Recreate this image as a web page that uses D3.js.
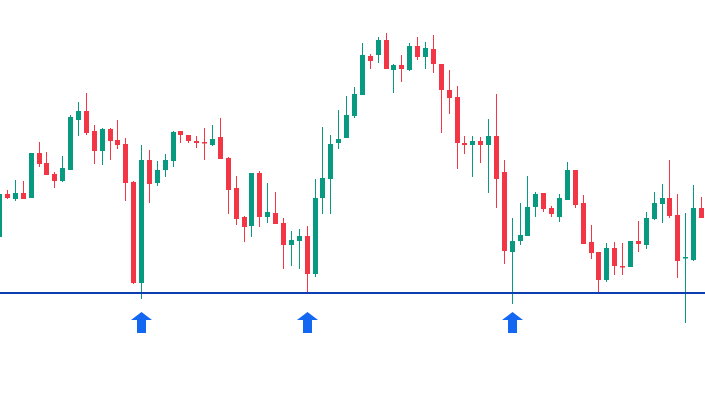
<!DOCTYPE html>
<html>
<head>
<meta charset="utf-8">
<script src="https://cdn.jsdelivr.net/npm/d3@7"></script>
<style>
  html, body { margin: 0; padding: 0; background: #ffffff; }
  svg { display: block; }
</style>
</head>
<body>
<svg id="chart" width="705" height="395"></svg>
<script>
// Candle data (price units)
const opens  = [158,201,196,202,197,242,232,221,214,225,275,284,264,244,266,255,251,213,112,235,
                212,225,234,264,260,254,253,250,258,237,207,178,169,222,178,182,172,150,154,159,
                121,197,216,252,257,279,300,339,340,355,325,330,325,349,338,346,331,305,298,252,
                250,254,250,259,223,143,154,159,188,202,187,178,195,225,192,153,143,115,147,129,
                128,154,150,176,191,197,180,137,135,187];
const highs  = [203,205,215,214,242,253,243,223,239,280,293,302,270,267,267,275,257,214,250,245,
                234,241,264,264,260,259,267,270,277,238,219,179,222,224,212,203,177,164,166,169,
                216,268,260,285,299,308,352,341,358,362,331,340,352,358,353,360,331,325,309,259,
                259,258,276,301,235,177,192,219,203,202,189,201,233,225,200,170,143,152,153,152,
                154,174,183,203,211,235,201,182,210,198];
const lows   = [157,196,194,196,197,228,220,207,213,225,259,260,231,230,235,246,194,111,96,192,
                209,218,228,252,252,247,235,249,236,181,170,153,158,168,172,171,126,129,126,101,
                118,181,181,246,257,277,300,326,332,326,302,313,324,335,326,322,262,281,226,241,
                218,232,202,187,131,91,150,159,178,183,178,173,195,187,151,136,101,113,120,120,
                128,143,146,175,172,177,117,72,134,177];
const closes = [201,197,202,196,242,231,220,214,227,278,284,262,244,266,254,250,212,112,235,211,
                225,235,263,260,254,252,252,256,236,205,176,168,222,178,183,171,150,155,159,121,
                197,217,251,256,280,301,340,334,355,326,330,326,349,338,347,331,305,297,252,250,
                254,250,259,216,144,154,160,188,201,186,181,197,225,190,151,142,115,147,129,128,
                154,151,177,192,197,179,134,138,187,177];
const supportLevel = 102;
const signalCandles = [18, 39, 65];

const W = 705, H = 395;
const svg = d3.select("#chart");
svg.append("rect").attr("width", W).attr("height", H).attr("fill", "#ffffff");

const idx = d3.range(opens.length);
const x = d3.scaleLinear().domain([0, opens.length - 1]).range([-0.4, 701.5]);
const y = d3.scaleLinear().domain([0, 395]).range([395, 0]);

const up = "#089981", down = "#f23645";
const bodyW = 5;

const g = svg.append("g");
const candle = g.selectAll("g.c").data(idx).join("g").attr("class", "c");

candle.append("line")
  .attr("x1", i => Math.floor(x(i)) + 0.5)
  .attr("x2", i => Math.floor(x(i)) + 0.5)
  .attr("y1", i => y(highs[i]))
  .attr("y2", i => y(lows[i]))
  .attr("stroke", i => closes[i] >= opens[i] ? up : down)
  .attr("stroke-width", 1);

candle.append("rect")
  .attr("x", i => Math.floor(x(i)) - 2)
  .attr("width", bodyW)
  .attr("y", i => y(Math.max(opens[i], closes[i])))
  .attr("height", i => Math.max(1.5, Math.abs(y(opens[i]) - y(closes[i]))))
  .attr("fill", i => closes[i] >= opens[i] ? up : down);

// Support line
svg.append("line")
  .attr("x1", 0).attr("x2", W)
  .attr("y1", y(supportLevel)).attr("y2", y(supportLevel))
  .attr("stroke", "#0c3db3").attr("stroke-width", 2);

// Arrows
const arrowPath = "M0,0 L10.5,8 L4.5,8 L4.5,21 L-4.5,21 L-4.5,8 L-10.5,8 Z";
svg.selectAll("path.arrow").data(signalCandles).join("path")
  .attr("class", "arrow")
  .attr("d", arrowPath)
  .attr("transform", i => `translate(${Math.floor(x(i)) + 0.5},${y(supportLevel) + 19})`)
  .attr("fill", "#1467f0");
</script>
</body>
</html>
